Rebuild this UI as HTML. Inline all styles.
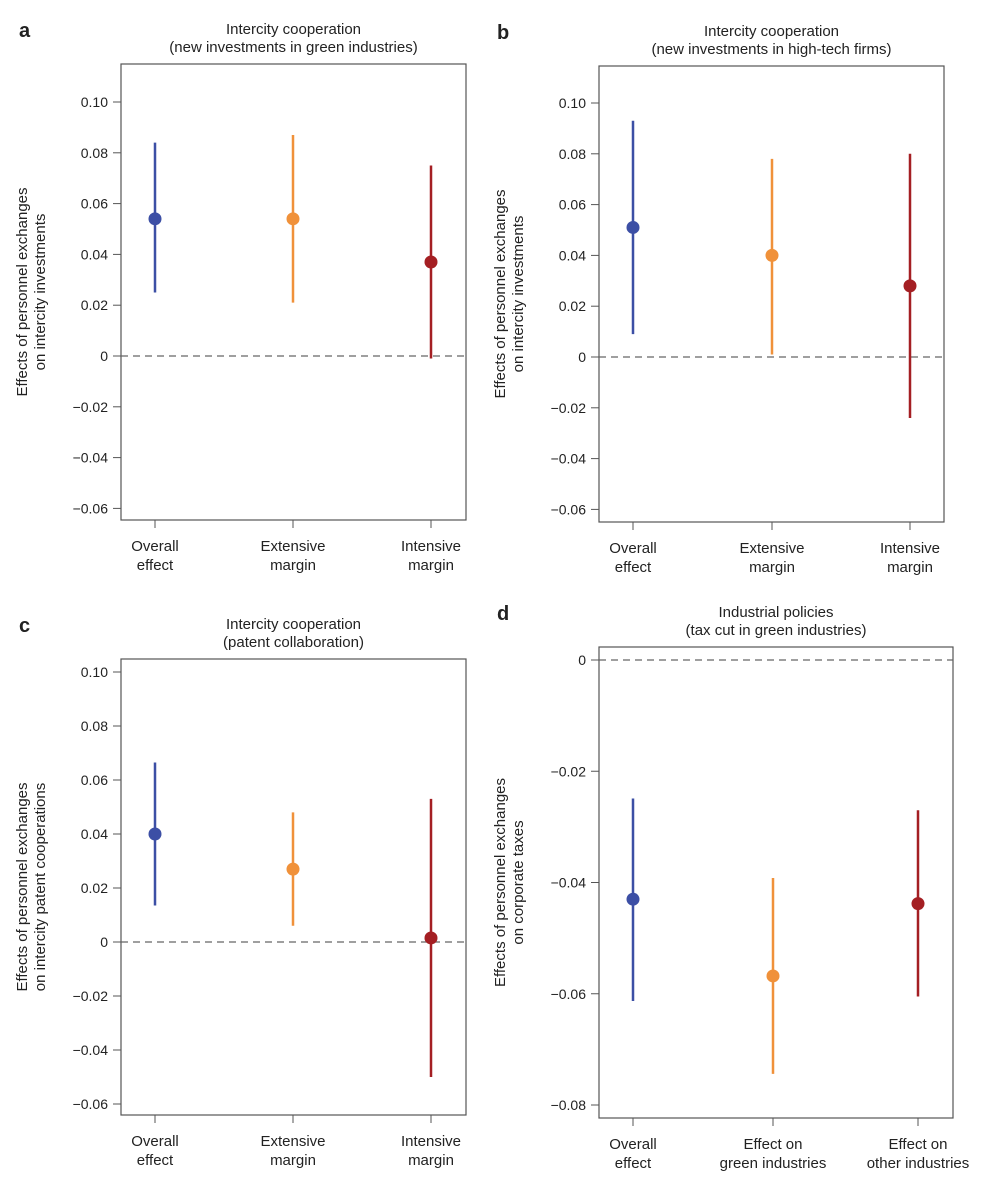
<!DOCTYPE html><html><head><style>body{margin:0;background:#fff}svg text{font-family:"Liberation Sans",sans-serif;fill:#222}</style></head><body>
<svg id="s" width="990" height="1181" xmlns="http://www.w3.org/2000/svg"></svg>
<script>
const s=document.getElementById('s');let h='';
const C=['#3c4fa5','#f0913a','#a41f23'];
function panel(o){
 const {L,R,T,B,z,k,ticks,xs,data,letter,title,ylab,xl}=o;
 const Y=v=>z-v*k;
 h+=`<text x="${L-102}" y="${T-27}" font-size="20" font-weight="bold">${letter}</text>`;
 const cx=(L+R)/2;
 h+=`<text x="${cx}" y="${T-30}" font-size="15" text-anchor="middle">${title[0]}</text><text x="${cx}" y="${T-12}" font-size="15" text-anchor="middle">${title[1]}</text>`;
 h+=`<rect x="${L}" y="${T}" width="${R-L}" height="${B-T}" fill="none" stroke="#555" stroke-width="1.2"/>`;
 h+=`<line x1="${L}" x2="${R}" y1="${z}" y2="${z}" stroke="#666" stroke-width="1.3" stroke-dasharray="7,5"/>`;
 ticks.forEach(t=>{const y=Y(t);h+=`<line x1="${L-8}" x2="${L}" y1="${y}" y2="${y}" stroke="#555"/><text x="${L-13}" y="${y+5}" font-size="14" text-anchor="end">${t==0?'0':(t<0?'\u2212':'')+Math.abs(t).toFixed(2)}</text>`;});
 xs.forEach((x,i)=>{h+=`<line x1="${x}" x2="${x}" y1="${B}" y2="${B+8}" stroke="#555"/><text x="${x}" y="${B+31}" font-size="15" text-anchor="middle">${xl[i][0]}</text><text x="${x}" y="${B+50}" font-size="15" text-anchor="middle">${xl[i][1]}</text>`;
  const d=data[i];h+=`<line x1="${x}" x2="${x}" y1="${Y(d[1])}" y2="${Y(d[2])}" stroke="${C[i]}" stroke-width="2.5"/><circle cx="${x}" cy="${Y(d[0])}" r="6.5" fill="${C[i]}"/>`;});
 const my=(T+B)/2, lx=L-94;
 h+=`<text transform="translate(${lx},${my}) rotate(-90)" font-size="15" text-anchor="middle">${ylab[0]}</text><text transform="translate(${lx+18},${my}) rotate(-90)" font-size="15" text-anchor="middle">${ylab[1]}</text>`;
}
const tk=[0.10,0.08,0.06,0.04,0.02,0,-0.02,-0.04,-0.06];
const xm=[['Overall','effect'],['Extensive','margin'],['Intensive','margin']];
panel({L:121,R:466,T:64,B:520,z:356,k:2540,ticks:tk,xs:[155,293,431],data:[[0.054,0.025,0.084],[0.054,0.021,0.087],[0.037,-0.001,0.075]],letter:'a',title:['Intercity cooperation','(new investments in green industries)'],ylab:['Effects of personnel exchanges','on intercity investments'],xl:xm});
panel({L:599,R:944,T:66,B:522,z:357,k:2540,ticks:tk,xs:[633,772,910],data:[[0.051,0.009,0.093],[0.040,0.001,0.078],[0.028,-0.024,0.080]],letter:'b',title:['Intercity cooperation','(new investments in high-tech firms)'],ylab:['Effects of personnel exchanges','on intercity investments'],xl:xm});
panel({L:121,R:466,T:659,B:1115,z:942,k:2700,ticks:tk,xs:[155,293,431],data:[[0.040,0.0135,0.0665],[0.027,0.006,0.048],[0.0015,-0.050,0.053]],letter:'c',title:['Intercity cooperation','(patent collaboration)'],ylab:['Effects of personnel exchanges','on intercity patent cooperations'],xl:xm});
panel({L:599,R:953,T:647,B:1118,z:660,k:5562.5,ticks:[0,-0.02,-0.04,-0.06,-0.08],xs:[633,773,918],data:[[-0.043,-0.0613,-0.0249],[-0.0568,-0.0744,-0.0392],[-0.0438,-0.0605,-0.027]],letter:'d',title:['Industrial policies','(tax cut in green industries)'],ylab:['Effects of personnel exchanges','on corporate taxes'],xl:[['Overall','effect'],['Effect on','green industries'],['Effect on','other industries']]});
s.innerHTML=h;
</script></body></html>
